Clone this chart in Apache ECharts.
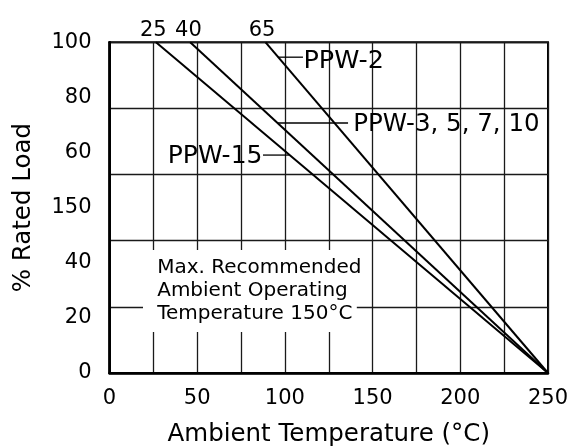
<!DOCTYPE html>
<html>
<head>
<meta charset="utf-8">
<script src="https://cdn.jsdelivr.net/npm/echarts@6/dist/echarts.min.js"></script>
<style>
html,body{margin:0;padding:0;background:#fff;}
#chart{width:573px;height:448px;}
</style>
</head>
<body>
<div id="chart"></div>
<script>
// ---- data ----
const xTickLabels = ['0', '', '50', '', '100', '', '150', '', '200', '', '250'];
const yTickLabels = ['0', '20', '40', '150', '60', '80', '100'];
const topTickValues = [25, 45, 87];
const topTickLabels = ['25', '40', '65'];
const ppw2 = [[89, 100], [250, 0]];
const ppw3 = [[46, 100], [250, 0]];
const ppw15 = [[26.5, 100], [250, 0]];
const boxText = ['Max. Recommended', 'Ambient Operating', 'Temperature 150\u00B0C'];

const FONT = 'DejaVu Sans';
const chart = echarts.init(document.getElementById('chart'), null, {renderer: 'canvas'});

const lineSeries = (name, data) => ({
  name, type: 'line', data, xAxisIndex: 0, yAxisIndex: 1,
  symbol: 'none', silent: true, z: 5,
  lineStyle: {color: '#000', width: 2}
});

chart.setOption({
  animation: false,
  backgroundColor: '#fff',
  textStyle: {fontFamily: FONT, color: '#000'},
  grid: {left: 109.5, right: 25, top: 42.3, bottom: 75, show: true, borderColor: '#000', borderWidth: 2,
    containLabel: false, outerBoundsMode: 'none'},
  xAxis: [{
    type: 'value', min: 0, max: 250, interval: 25, position: 'bottom',
    name: 'Ambient Temperature (\u00B0C)', nameLocation: 'middle', nameGap: 49,
    nameTextStyle: {fontFamily: FONT, fontSize: 24.5, color: '#000'},
    axisLine: {show: true, lineStyle: {color: '#000', width: 2.5}},
    axisTick: {show: false},
    axisLabel: {fontFamily: FONT, fontSize: 21, color: '#000', margin: 15,
      formatter: (v) => xTickLabels[Math.round(v / 25)] || ''},
    splitLine: {show: true, lineStyle: {color: '#1a1a1a', width: 1.3}}
  }, {
    type: 'value', min: 0, max: 250, position: 'top',
    axisLine: {show: true, lineStyle: {color: '#000', width: 2}},
    axisTick: {show: false},
    axisLabel: {fontFamily: FONT, fontSize: 21, color: '#000', margin: 1,
      customValues: topTickValues,
      formatter: (v) => { const i = topTickValues.indexOf(v); return i >= 0 ? topTickLabels[i] : ''; }},
    splitLine: {show: false}
  }],
  yAxis: [{
    type: 'value', min: 0, max: 6, interval: 1, position: 'left',
    name: '% Rated Load', nameLocation: 'middle', nameGap: 73, nameRotate: 90,
    nameTextStyle: {fontFamily: FONT, fontSize: 24.5, color: '#000'},
    axisLine: {show: true, lineStyle: {color: '#000', width: 2.5}},
    axisTick: {show: false},
    axisLabel: {fontFamily: FONT, fontSize: 21, color: '#000', margin: 18,
      formatter: (v) => yTickLabels[Math.round(v)]},
    splitLine: {show: false}
  }, {
    type: 'value', min: 0, max: 100, interval: 20, position: 'right',
    axisLine: {show: true, lineStyle: {color: '#000', width: 2}},
    axisTick: {show: false},
    axisLabel: {show: false},
    splitLine: {show: true, lineStyle: {color: '#1a1a1a', width: 1.3}}
  }],
  series: [lineSeries('PPW-2', ppw2), lineSeries('PPW-3, 5, 7, 10', ppw3), lineSeries('PPW-15', ppw15)]
});

// annotations anchored in data coordinates
const P = (x, y) => chart.convertToPixel({xAxisIndex: 0, yAxisIndex: 1}, [x, y]);
const leader = (a, b) => {
  const p1 = P(a[0], a[1]), p2 = P(b[0], b[1]);
  return {type: 'line', z: 20, silent: true, shape: {x1: p1[0], y1: p1[1], x2: p2[0], y2: p2[1]},
    style: {stroke: '#000', lineWidth: 1.3}};
};
const label = (text, at, align, size) => {
  const p = P(at[0], at[1]);
  return {type: 'text', z: 21, silent: true, x: p[0], y: p[1],
    style: {text, fontFamily: FONT, fontSize: size, fill: '#000', align, verticalAlign: 'middle'}};
};
const b1 = P(19.1, 37.2), b2 = P(141, 12.4);
const g = [
  leader([96.3, 95.5], [110.3, 95.5]),
  label('PPW-2', [110.6, 94.1], 'left', 25.5),
  leader([95.5, 75.6], [136, 75.6]),
  label('PPW-3, 5, 7, 10', [139, 75.0], 'left', 24.5),
  leader([87.5, 65.9], [102.3, 65.9]),
  label('PPW-15', [87.2, 65.5], 'right', 25),
  {type: 'rect', z: 15, silent: true, shape: {x: b1[0], y: b1[1], width: b2[0] - b1[0], height: b2[1] - b1[1]},
    style: {fill: '#fff'}},
  label(boxText[0], [27.2, 31.9], 'left', 20),
  label(boxText[1], [27.2, 24.8], 'left', 20),
  label(boxText[2], [27.2, 17.8], 'left', 20)
];
chart.setOption({graphic: g});
</script>
</body>
</html>
